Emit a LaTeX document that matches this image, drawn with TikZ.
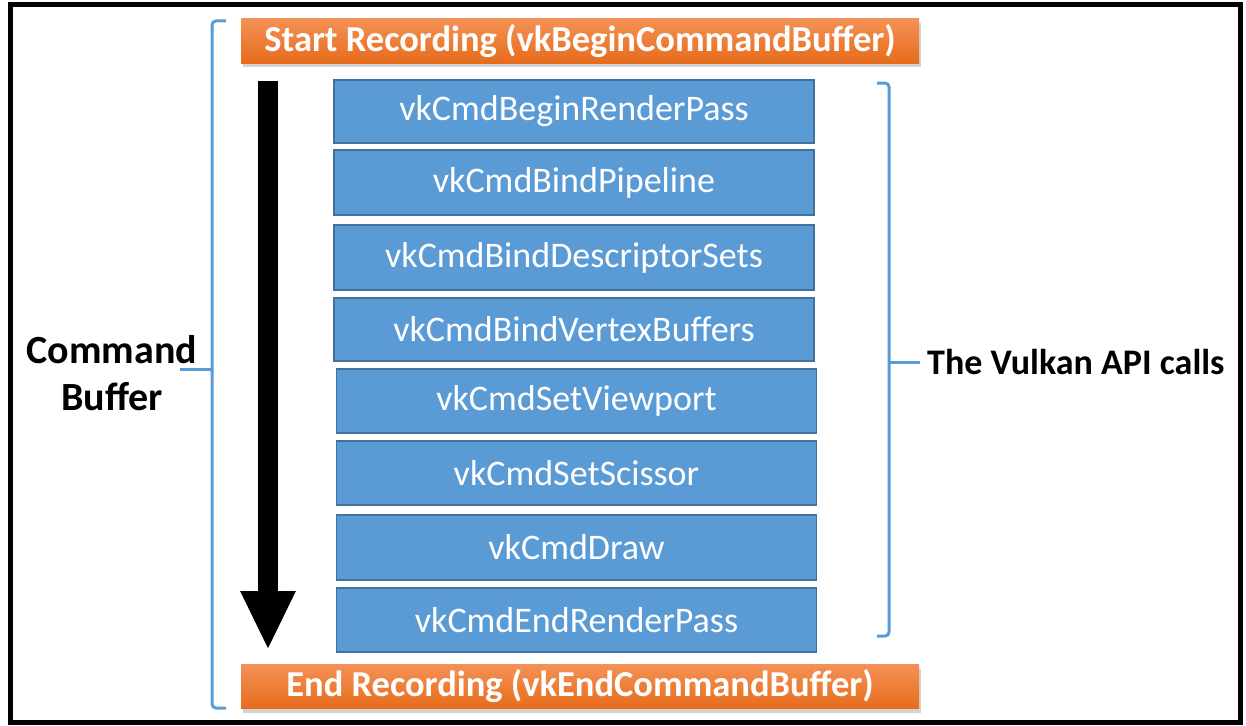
\documentclass[tikz,border=0pt]{standalone}
\usepackage{fontspec}
\setmainfont{Carlito}
\usetikzlibrary{arrows.meta,shadows}

\definecolor{callblue}{RGB}{91,155,213}
\definecolor{callline}{RGB}{65,113,156}
\definecolor{recordtop}{RGB}{244,145,85}
\definecolor{recordbot}{RGB}{230,108,28}

\begin{document}
\begin{tikzpicture}[x=1pt,y=-1pt,
    call/.style={draw=callline,line width=1.5pt,fill=callblue,text=white,
        minimum width=480pt,minimum height=64pt,inner sep=0pt,
        font=\fontsize{36}{40}\selectfont},
    record/.style={top color=recordtop,bottom color=recordbot,text=white,
        minimum width=678pt,minimum height=44pt,inner sep=0pt,
        drop shadow={shadow xshift=2pt,shadow yshift=-4pt,opacity=0.35},
        font=\bfseries\fontsize{36.5}{40}\selectfont},
    brace/.style={draw=callblue,line width=3pt,rounded corners=4pt},
    label/.style={align=center,font=\bfseries\fontsize{40}{47}\selectfont}]
    \useasboundingbox (0,0) rectangle (1246,725);
    \draw[line width=5pt] (10,5) rectangle (1240,722);

    % start and end of the recording
    \node[record] (start) at (580,41) {Start Recording (vkBeginCommandBuffer)};
    \node[record] (stop) at (580,686.5) {End Recording (vkEndCommandBuffer)};

    % the API calls
    \node[call,minimum height=63pt] (begin) at (574,111.5) {vkCmdBeginRenderPass};
    \node[call,minimum height=65pt] (pipe) at (574,182.5) {vkCmdBindPipeline};
    \node[call,minimum height=65pt] (desc) at (574,257.5) {vkCmdBindDescriptorSets};
    \node[call,minimum height=63pt] (vert) at (574,329.5) {vkCmdBindVertexBuffers};
    \node[call] (view) at (576.5,401) {vkCmdSetViewport};
    \node[call] (sciss) at (576.5,473) {vkCmdSetScissor};
    \node[call,minimum height=65pt] (draw) at (576.5,547.5) {vkCmdDraw};
    \node[call] (endpass) at (576.5,620) {vkCmdEndRenderPass};

    % order of recording
    \coordinate (flowtop) at (268,81);
    \coordinate (flowtip) at (268,650);
    \draw[line width=20pt,-{Triangle[width=51pt,length=59pt]}] (flowtop) -- (flowtip);

    % braces
    \draw[brace] (226,21) -- (212,21) -- (212,708) -- (226,708);
    \draw[brace] (212,369) -- (180,369);
    \draw[brace] (877,83) -- (889,83) -- (889,636) -- (877,636);
    \draw[brace] (889,362) -- (920,362);

    \node[label] (cmdbuf) at (112,373) {Command\\Buffer};
    \node[label,anchor=west,inner sep=0pt,font=\bfseries\fontsize{36}{40}\selectfont] (api) at (927,362) {The Vulkan API calls};
\end{tikzpicture}
\end{document}
